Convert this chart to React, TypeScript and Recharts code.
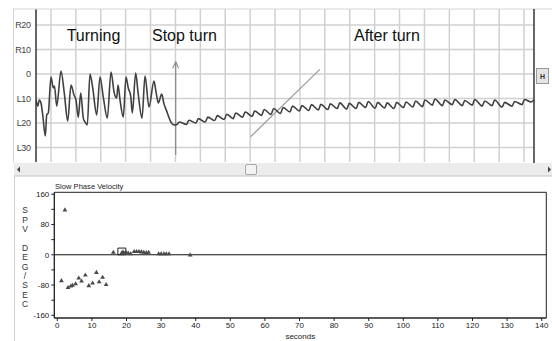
import React from 'react';
import {
  LineChart, Line, XAxis, YAxis, CartesianGrid, ReferenceLine,
  ScatterChart, Scatter, ReferenceArea, Label,
} from 'recharts';

// ---------- Upper panel: eye position trace (deg, R positive / L negative) ----------
const traceTime = [
  0, 0.34, 0.66, 1.0, 1.35, 1.87, 2.15, 2.47, 3.01, 3.47, 3.71, 4.16, 5.02, 5.68, 6.37,
  7.03, 7.63, 8.03, 8.49, 8.98, 9.5, 9.84, 10.3, 10.84, 11.39, 12.19, 12.85, 13.51, 14.32,
  15.06, 15.72, 16.2, 16.47, 16.87, 17.53, 18.07, 18.53, 19.02, 19.34, 20.02, 20.48, 21.29,
  21.89, 22.69, 23.69, 24.1, 24.56, 25.24, 25.7, 26.31, 26.91, 27.37, 27.81,
  28.3, 28.8, 30.2, 30.7, 32.1, 32.6, 34.0, 34.5, 35.9, 36.4, 37.8, 38.3, 39.6, 40.1,
  41.5, 42.0, 43.4, 43.9, 45.3, 45.8, 47.2, 47.7, 49.1, 49.6, 51.0, 51.5, 52.9, 53.4,
  54.8, 55.3, 56.7, 57.2, 58.6, 59.1, 60.5, 61.0, 62.4, 62.9, 64.3, 64.8, 66.2, 66.7,
  68.1, 68.6, 70.0, 70.5, 71.9, 72.4, 73.8, 74.3, 75.7, 76.2, 77.6, 78.1, 79.6, 80.1,
  81.6, 82.1, 83.6, 84.1, 85.6, 86.1, 87.6, 88.1, 89.6, 90.1, 91.6, 92.1, 93.6, 94.1,
  95.6, 96.1, 97.6, 98.1, 99.4, 100,
];
const traceDeg = [
  -10.6, -13.1, -10.6, -11.8, -16.7, -25.3, -16.7, -15.9, -1.2, -5.7, -4.9, -13.1, 1.2, -7.8, -19.2,
  -4.5, -8.6, -10.6, -17.6, -7.8, -18.0, -19.6, -20.8, 0, -5.7, -16.7, -1.2, -9.4, -18.0,
  0.8, -7.8, -9.8, -4.5, -10.6, -17.6, -1.2, -5.7, -9.0, -15.9, 0.4, -7.3, -18.0,
  -0.8, -13.5, -2.9, -7.3, -11.8, -8.2, -12.2, -15.5, -18.8, -20.4, -20.8,
  -20.6, -19.6, -20.6, -18.9, -20.0, -18.2, -19.6, -17.6, -19.0, -17.0, -18.6, -16.4, -18.2, -15.9,
  -17.6, -15.5, -17.3, -15.1, -16.9, -14.5, -16.5, -14.1, -16.1, -13.7, -15.5, -13.1, -15.1, -12.9,
  -14.9, -12.5, -14.7, -12.4, -14.5, -12.2, -14.1, -11.8, -14.3, -12.0, -14.1, -11.6, -13.7, -11.2,
  -14.0, -11.6, -13.9, -11.8, -14.1, -11.6, -13.7, -11.4, -13.5, -11.0, -13.3, -10.6, -12.7, -10.2,
  -12.9, -10.6, -12.5, -10.4, -12.9, -10.8, -12.7, -10.4, -13.1, -11.0, -12.9, -10.6, -13.5, -11.6,
  -13.1, -11.2, -12.5, -10.4, -11.4, -10.6,
];
const posTicks = [20, 10, 0, -10, -20, -30];
const posTickLabels = ['R20', 'R10', '0', 'L10', 'L20', 'L30'];
const timeGrid = [3, 8, 13, 18, 23, 28, 33, 38, 43, 48, 53, 58, 63, 68, 73, 78, 83, 88, 93, 98];
const annotations = ['Turning', 'Stop turn', 'After turn'];

// ---------- Lower panel: slow phase velocity ----------
const spvTime = [
  1.2, 2.2, 3.1, 3.9, 4.4, 5.3, 6.2, 7.0, 8.1, 9.1, 10.2, 11.3, 12.1, 13.1, 14.1,
  16.2, 18.6, 19.0, 19.4, 19.9, 20.5, 21.2, 22.2, 22.9, 23.6, 24.3, 25.0, 25.7, 26.4,
  29.3, 30.0, 30.8, 31.5, 32.3, 38.4,
];
const spvValue = [
  -68, 119, -86, -82, -80, -76, -61, -69, -53, -81, -74, -46, -71, -59, -78,
  7, 5, 8, 4, 6, 5, 3, 9, 9, 9, 8, 7, 6, 7,
  3, 3, 3, 3, 3, 0,
];
const spvTicksX = [0, 10, 20, 30, 40, 50, 60, 70, 80, 90, 100, 110, 120, 130, 140];
const spvTicksY = [-160, -120, -80, -40, 0, 40, 80, 120, 160];
const spvLabeledY = [-160, -80, 0, 80, 160];
const spvAxisLetters = ['S', 'P', 'V', '', 'D', 'E', 'G', '/', 'S', 'E', 'C'];

const traceData = traceTime.map((t, i) => ({ t, v: traceDeg[i] }));
const spvData = spvTime.map((x, i) => ({ x, y: spvValue[i] }));

const FONT = '"Liberation Sans", Arial, sans-serif';
const TOP_X = [0, 100];
const TOP_Y = [-35.92, 26.53];
const BOT_X = [-0.87, 141.33];
const BOT_Y = [-167, 165];

const SmallTriangle = (props: any) => {
  const { cx, cy } = props;
  if (cx == null || cy == null) return null;
  return <path d={`M${cx},${cy - 2.4} L${cx + 2.4},${cy + 1.7} L${cx - 2.4},${cy + 1.7} Z`} fill="#4a4a4a" />;
};

export default function App() {
  return (
    <div style={{ position: 'fixed', left: 0, top: 0, width: 552, height: 341, background: '#fff', overflow: 'hidden' }}>
      <div style={{ position: 'absolute', left: 0, top: 0 }}>
        <LineChart width={552} height={162} data={traceData} margin={{ top: 9, right: 18, bottom: 0, left: 0 }}>
          <CartesianGrid stroke="#d0d0d0" strokeWidth={1.5} verticalValues={timeGrid} horizontalValues={posTicks} />
          <XAxis type="number" dataKey="t" domain={TOP_X} hide allowDataOverflow />
          <YAxis
            type="number"
            domain={TOP_Y}
            ticks={posTicks}
            interval={0}
            width={36}
            tickSize={0}
            tickMargin={5.5}
            allowDataOverflow
            axisLine={{ stroke: '#333', strokeWidth: 1.5 }}
            tick={{ fontSize: 9, fill: '#444', fontFamily: FONT, letterSpacing: -0.4 }}
            tickFormatter={(v: number) => posTickLabels[posTicks.indexOf(v)] ?? ''}
          />
          <ReferenceLine segment={[{ x: 43.1, y: -25.6 }, { x: 57.0, y: 1.9 }]} stroke="#9a9a9a" strokeWidth={1.2} ifOverflow="visible" />
          <ReferenceLine segment={[{ x: 28.05, y: -33.1 }, { x: 28.05, y: 5.0 }]} stroke="#8a8a8a" strokeWidth={1.2} ifOverflow="visible" />
          <ReferenceLine segment={[{ x: 27.45, y: 2.3 }, { x: 28.05, y: 5.0 }]} stroke="#8a8a8a" strokeWidth={1.1} ifOverflow="visible" />
          <ReferenceLine segment={[{ x: 28.65, y: 2.3 }, { x: 28.05, y: 5.0 }]} stroke="#8a8a8a" strokeWidth={1.1} ifOverflow="visible" />
          <Line type="monotone" dataKey="v" stroke="#404040" strokeWidth={1.6} dot={false} isAnimationActive={false} />
        </LineChart>
      </div>

      <div style={{ position: 'absolute', left: 0, top: 176 }}>
        <ScatterChart width={552} height={165} margin={{ top: 16.3, right: 5.7, bottom: 0, left: 0 }}>
          <XAxis
            type="number"
            dataKey="x"
            domain={BOT_X}
            ticks={spvTicksX}
            interval={0}
            height={23}
            tickSize={3}
            tickMargin={1}
            allowDataOverflow
            axisLine={{ stroke: '#222' }}
            tickLine={{ stroke: '#222' }}
            tick={{ fontSize: 8, fill: '#222', fontFamily: FONT }}
          >
            <Label value="seconds" position="insideBottom" offset={2} style={{ fontSize: 8, fill: '#222', fontFamily: FONT }} />
          </XAxis>
          <YAxis
            type="number"
            dataKey="y"
            domain={BOT_Y}
            ticks={spvTicksY}
            interval={0}
            width={54.3}
            tickSize={3}
            tickMargin={2}
            allowDataOverflow
            axisLine={{ stroke: '#222' }}
            tickLine={{ stroke: '#222' }}
            tick={{ fontSize: 8, fill: '#222', fontFamily: FONT }}
            tickFormatter={(v: number) => (spvLabeledY.includes(v) ? String(v) : '')}
          />
          <ReferenceArea x1={BOT_X[0]} x2={BOT_X[1]} y1={BOT_Y[0]} y2={BOT_Y[1]} fill="none" fillOpacity={0} stroke="#222" strokeWidth={1} ifOverflow="visible" />
          <ReferenceLine y={0} stroke="#111" strokeWidth={1} />
          <Scatter data={spvData} shape={SmallTriangle} fill="#4a4a4a" isAnimationActive={false} />
          <ReferenceArea x1={17.5} x2={19.8} y1={0} y2={17.7} fill="none" fillOpacity={0} stroke="#222" strokeWidth={1} ifOverflow="visible" />
        </ScatterChart>
      </div>

      <svg width={552} height={341} style={{ position: 'absolute', left: 0, top: 0, pointerEvents: 'none' }}>
        {/* panel frame */}
        <line x1={13} y1={9} x2={552} y2={9} stroke="#d4d4d4" strokeWidth={1} />
        <line x1={13.5} y1={9} x2={13.5} y2={163} stroke="#d4d4d4" strokeWidth={1} />
        <line x1={534} y1={9} x2={534} y2={163} stroke="#333" strokeWidth={1.5} />
        <line x1={14.5} y1={176} x2={14.5} y2={341} stroke="#cfcfcf" strokeWidth={1} />
        {/* annotations */}
        <text x={66.7} y={40.5} fontSize={16} fontFamily={FONT} fill="#111">{annotations[0]}</text>
        <text x={152} y={40.5} fontSize={16} fontFamily={FONT} fill="#111">{annotations[1]}</text>
        <text x={354} y={40.5} fontSize={16} fontFamily={FONT} fill="#111">{annotations[2]}</text>
        {/* H button */}
        <rect x={536.5} y={68.5} width={12} height={15} fill="#e4e4e4" stroke="#9a9a9a" />
        <text x={542.5} y={79} fontSize={7} fontWeight="bold" textAnchor="middle" fontFamily={FONT} fill="#333">H</text>
        {/* scrollbar */}
        <rect x={14} y={163} width={538} height={13} fill="#ececec" />
        <line x1={14} y1={176} x2={552} y2={176} stroke="#c4c4c4" />
        <rect x={245.5} y={164.5} width={11} height={10} rx={1.5} fill="#f3f3f3" stroke="#a8a8a8" />
        <path d="M20 166.5 L17 169.5 L20 172.5 Z" fill="#444" />
        <path d="M548 166.5 L551 169.5 L548 172.5 Z" fill="#444" />
        {/* lower panel title and vertical axis caption */}
        <text x={55} y={189} fontSize={7.6} fontFamily={FONT} fill="#222">Slow Phase Velocity</text>
        {spvAxisLetters.map((ch, i) => (
          <text key={i} x={25} y={213.2 + i * 9.4} fontSize={8.5} textAnchor="middle" fontFamily={FONT} fill="#333">{ch}</text>
        ))}
      </svg>
    </div>
  );
}
